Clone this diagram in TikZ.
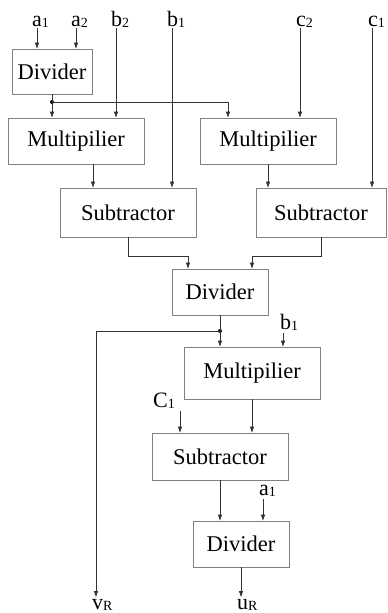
\documentclass[tikz,border=0pt]{standalone}
\usepackage{fontspec}
\setmainfont{Liberation Serif}
\usetikzlibrary{arrows.meta}
\newcommand{\lsub}[1]{\raisebox{-1.5pt}{\fontsize{14}{14}\selectfont #1}}
\tikzstyle{block}=[
        draw = black!50,
        line width = 0.9pt,
        fill = white,
        inner sep = 0pt,
        font = \fontsize{22.5}{26}\selectfont
    ]
\tikzstyle{lbl}=[
    inner sep = 0pt,
    anchor = base west,
    font = \fontsize{22}{26}\selectfont
]
\tikzstyle{arr}=[
    draw = black!80,
    line width = 0.8pt,
    -{Triangle[length=6pt,width=4pt]}
]
\tikzstyle{dot}=[
    circle,
    fill = black,
    inner sep = 0pt,
    minimum size = 4pt
]

\begin{document}
\begin{tikzpicture}[x=1pt, y=-1pt]
        \useasboundingbox (0,0) rectangle (388,613);

        % blocks
        \node[block, minimum width=80pt, minimum height=45pt] (div1) at (52,71.5) {Divider};
        \node[block, minimum width=136pt, minimum height=46pt] (mul1) at (76,141) {Multipilier};
        \node[block, minimum width=136pt, minimum height=46pt] (mul2) at (268,141) {Multipilier};
        \node[block, minimum width=136pt, minimum height=49pt] (sub1) at (128,212.5) {Subtractor};
        \node[block, minimum width=130pt, minimum height=49pt] (sub2) at (321,212.5) {Subtractor};
        \node[block, minimum width=96pt, minimum height=46pt] (div2) at (220,292) {Divider};
        \node[block, minimum width=136pt, minimum height=52pt] (mul3) at (252,373) {Multipilier};
        \node[block, minimum width=136pt, minimum height=47pt] (sub3) at (220,456.5) {Subtractor};
        \node[block, minimum width=96pt, minimum height=46pt] (div3) at (241,544) {Divider};

        % inputs
        \node[lbl] (a1) at (32,26) {a\lsub{1}};
        \node[lbl] (a2) at (71,26) {a\lsub{2}};
        \node[lbl] (b2) at (111,26) {b\lsub{2}};
        \node[lbl] (b1) at (167,26) {b\lsub{1}};
        \node[lbl] (c2) at (296,26) {c\lsub{2}};
        \node[lbl] (c1) at (368,26) {c\lsub{1}};
        \node[lbl] (b1b) at (280,329) {b\lsub{1}};
        \node[lbl] (C1) at (153,407) {C\lsub{1}};
        \node[lbl] (a1b) at (259,495) {a\lsub{1}};
        \node[lbl] (vR) at (92,609) {v\lsub{R}};
        \node[lbl] (uR) at (237,609) {u\lsub{R}};

        \coordinate (ina1) at (37,28);
        \coordinate (ina2) at (76,28);
        \coordinate (inb2) at (116,28);
        \coordinate (inb1) at (172,28);
        \coordinate (inc2) at (300,28);
        \coordinate (inc1) at (372,28);
        \coordinate (inb1b) at (283,333);
        \coordinate (inC1) at (180,411);
        \coordinate (ina1b) at (263,499);
        \coordinate (outv) at (96,597);
        \coordinate (outu) at (241,597);

        \node[dot] (j1) at (52,102) {};
        \node[dot] (j2) at (220,331) {};

        \draw[arr] (ina1) -- (ina1 |- div1.north);
        \draw[arr] (ina2) -- (ina2 |- div1.north);
        \draw[arr] (inb2) -- (inb2 |- mul1.north);
        \draw[arr] (inb1) -- (inb1 |- sub1.north);
        \draw[arr] (inc2) -- (inc2 |- mul2.north);
        \draw[arr] (inc1) -- (inc1 |- sub2.north);

        \draw[arr] (div1.south) -- (div1.south |- mul1.north);
        \draw[arr] (j1.center) -| ([xshift=-40pt]mul2.north);
        \draw[arr] ([xshift=17pt]mul1.south) -- ([xshift=17pt]mul1.south |- sub1.north);
        \draw[arr] (mul2.south) -- (mul2.south |- sub2.north);
        \draw[arr] (sub1.south) -- ++(0,19) -| ([xshift=-32pt]div2.north);
        \draw[arr] (sub2.south) -- ++(0,19) -| ([xshift=32pt]div2.north);

        \draw[arr] (div2.south) -- (div2.south |- mul3.north);
        \draw[arr] (j2.center) -| (outv);
        \draw[arr] (inb1b) -- (inb1b |- mul3.north);
        \draw[arr] (mul3.south) -- (mul3.south |- sub3.north);
        \draw[arr] (inC1) -- (inC1 |- sub3.north);
        \draw[arr] (sub3.south) -- (sub3.south |- div3.north);
        \draw[arr] (ina1b) -- (ina1b |- div3.north);
        \draw[arr] (div3.south) -- (outu);

    \end{tikzpicture}
\end{document}
